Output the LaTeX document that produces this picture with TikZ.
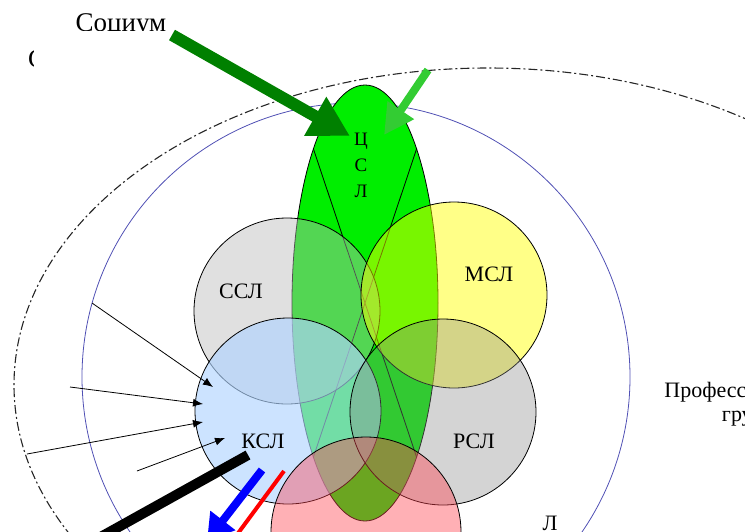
\documentclass[tikz,border=0pt]{standalone}
\usepackage{fontspec}
\setmainfont{Liberation Serif}
\usetikzlibrary{positioning}
\usetikzlibrary{shapes.geometric}
\usetikzlibrary{arrows.meta}
\definecolor{zelen}{RGB}{0,238,0}
\definecolor{temnozelen}{RGB}{0,128,0}
\definecolor{svetlozelen}{RGB}{51,204,51}
\definecolor{ramka}{RGB}{80,80,180}
\definecolor{sslcol}{RGB}{186,186,186}
\definecolor{mslcol}{RGB}{255,255,0}
\definecolor{kslcol}{RGB}{176,212,255}
\definecolor{rslcol}{RGB}{138,138,138}
\definecolor{lslcol}{RGB}{255,66,79}
\tikzset{
	every node/.style = {font=\fontsize{22}{24}\selectfont},
	krug/.style = {circle, draw=black, line width=0.8pt, minimum size=186pt, inner sep=0pt},
	strelka/.style = {-{Latex[length=10pt,width=8pt]}, line width=0.8pt, black}
}

\begin{document}
\begin{tikzpicture}[x=1pt, y=-1pt]
		\useasboundingbox (0,0) rectangle (745,531);
		\clip (0,0) rectangle (745,531);
		% outer rings
		\node[ellipse, draw=black!85, line width=1.1pt, dash pattern=on 9pt off 3pt on 2pt off 3pt,
			minimum width=948pt, minimum height=634pt, inner sep=0pt] (grp) at (488,385) {};
		\node[circle, draw=ramka, line width=0.8pt, minimum size=548pt, inner sep=0pt] (soc) at (356,377) {};
		
		% centre
		\node[ellipse, draw=black, line width=0.8pt, fill=zelen, minimum width=146pt,
			minimum height=436pt, inner sep=0pt] (csl) at (365,303) {};
		\path (csl.center) +(225:73 and 218) coordinate (a1) +(45:73 and 218) coordinate (a2)
			+(315:73 and 218) coordinate (b1) +(135:73 and 218) coordinate (b2);
		\draw[line width=0.8pt] (a1) -- (a2) (b1) -- (b2);
		
		% circles
		\node[krug, fill=sslcol, fill opacity=0.45] (ssl) at (287,311) {};
		\node[krug, fill=mslcol, fill opacity=0.47] (msl) at (454,295) {};
		\node[krug, fill=kslcol, fill opacity=0.65] (ksl) at (288,411) {};
		\node[krug, fill=rslcol, fill opacity=0.37] (rsl) at (443,412) {};
		\node[krug, fill=lslcol, fill opacity=0.42, minimum size=190pt] (lsl) at (366,532) {};
		
		% labels
		\node (tssl) at (241,291) {ССЛ};
		\node (tmsl) at (489,274) {МСЛ};
		\node (tksl) at (263,441) {КСЛ};
		\node (trsl) at (474,441) {РСЛ};
		\node[align=center, font=\fontsize{19}{26}\selectfont] (tcsl) at (361,165) {Ц\\С\\Л};
		\node[align=center, anchor=north, inner sep=0pt] (prof) at (754,382) {Профессиональная\\группа};
		\node[anchor=base, inner sep=0pt] (tl) at (550,530) {Л};
		\begin{scope}
			\clip (60,0) rectangle (175,30);
			\node[font=\fontsize{27}{30}\selectfont, anchor=base] (tsoc) at (121,31) {Социум};
		\end{scope}
		\begin{scope}
			\clip (20,40) rectangle (33,75);
			\node[font=\fontsize{26}{30}\selectfont, anchor=base west, inner sep=0pt] (tc) at (28,67) {С};
		\end{scope}
		
		% thin arrows into КСЛ
		\coordinate (s1) at (92,303);  \coordinate (e1) at (213,387);
		\coordinate (s2) at (70,387);  \coordinate (e2) at (203,404);
		\coordinate (s3) at (27,454);  \coordinate (e3) at (203,422);
		\coordinate (s4) at (137,471); \coordinate (e4) at (225,438);
		\foreach \i in {1,...,4}
			\draw[strelka] (s\i) -- (e\i);
		
		% thick outgoing lines
		\coordinate (k1) at (248,455); \coordinate (k2) at (70,554);
		\draw[line width=10pt, black] (k1) -- (k2);
		\coordinate (c1) at (262,470); \coordinate (c2) at (207,541);
		\draw[line width=8pt, blue, -{Triangle[length=26pt,width=30pt]}] (c1) -- (c2);
		\coordinate (r1) at (284,471); \coordinate (r2) at (236,536);
		\draw[line width=4pt, red] (r1) -- (r2);
		
		% incoming arrows
		\coordinate (g1) at (172,35); \coordinate (g2) at (350,136);
		\draw[line width=12pt, temnozelen, -{Triangle[length=40pt,width=42pt]}] (g1) -- (g2);
		\coordinate (h1) at (428,70); \coordinate (h2) at (384,135);
		\draw[line width=8pt, svetlozelen, -{Triangle[length=30pt,width=30pt]}] (h1) -- (h2);
	\end{tikzpicture}
\end{document}
